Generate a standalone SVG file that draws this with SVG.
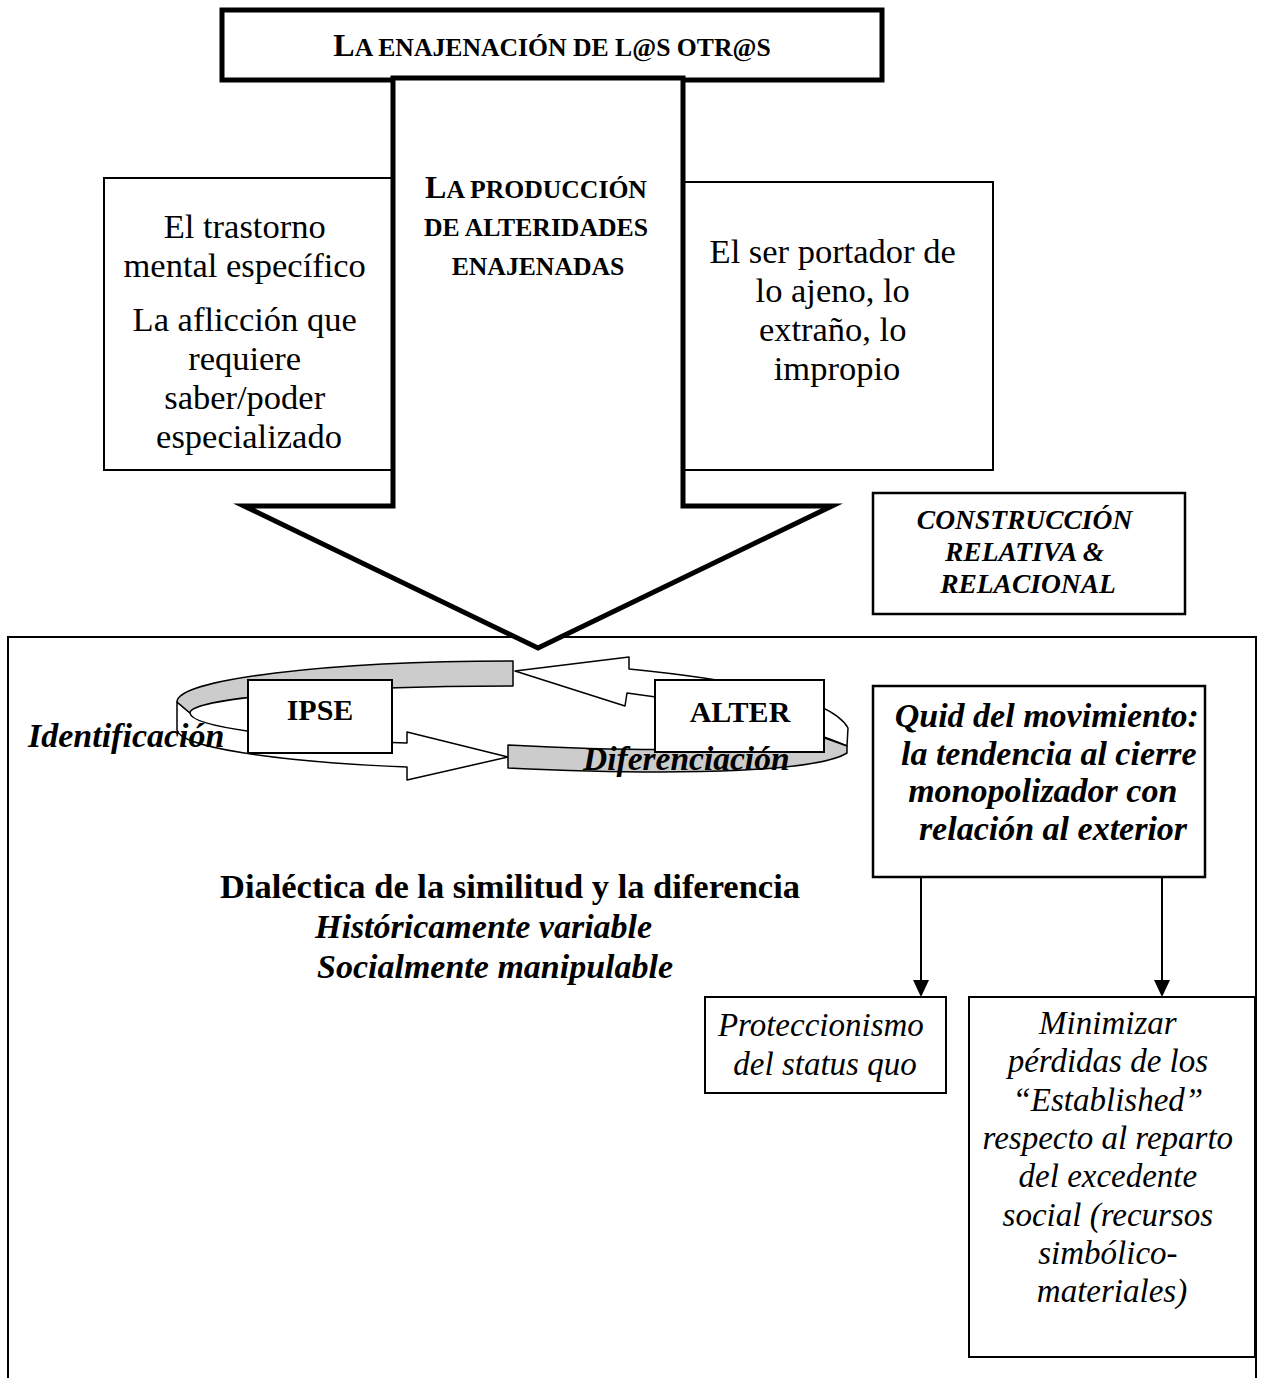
<svg xmlns="http://www.w3.org/2000/svg" width="1266" height="1378" viewBox="0 0 1266 1378">
  <defs>
    <style>
      text { font-family: "Liberation Serif", "Times New Roman", serif; fill: #000; }
      .box { fill: #fff; stroke: #000; stroke-width: 2; }
      .frame { fill: #fff; stroke: #000; stroke-width: 2.5; }
      .heavy { fill: #fff; stroke: #000; stroke-width: 5; stroke-linejoin: miter; stroke-miterlimit: 10; }
      .reg { font-size: 34.5px; text-anchor: middle; }
      .sc { font-weight: bold; text-anchor: middle; }
      .bi { font-weight: bold; font-style: italic; }
      .it { font-style: italic; font-size: 33px; text-anchor: middle; }
      .back { fill: #cccccc; stroke: #000; stroke-width: 1.5; stroke-linejoin: round; }
      .front { fill: #fff; stroke: #000; stroke-width: 1.5; stroke-linejoin: round; }
      .link { stroke: #000; stroke-width: 2; fill: none; marker-end: url(#head); }
    </style>
    <marker id="head" markerUnits="userSpaceOnUse" viewBox="0 0 17 16" markerWidth="17" markerHeight="16" refX="10" refY="8" orient="auto">
      <path d="M0,0 L17,8 L0,16 Z" fill="#000"/>
    </marker>
  </defs>

  <!-- outer frame of the lower section -->
  <g id="frame">
    <rect x="8" y="637" width="1248" height="780" class="box"/>
  </g>

  <!-- heading -->
  <g id="title">
    <rect x="222" y="10" width="660" height="70" class="heavy"/>
    <text x="552" y="56" class="sc"><tspan font-size="32">L</tspan><tspan font-size="25.7">A ENAJENACIÓN DE L@S OTR@S</tspan></text>
  </g>

  <!-- side boxes -->
  <g id="trastorno">
    <rect x="104" y="178" width="300" height="292" class="box"/>
    <text class="reg">
      <tspan x="249" y="238">El trastorno</tspan>
      <tspan x="249" y="277">mental específico</tspan>
      <tspan x="249" y="331">La aflicción que</tspan>
      <tspan x="249" y="370">requiere</tspan>
      <tspan x="249" y="409">saber/poder</tspan>
      <tspan x="249" y="448">especializado</tspan>
    </text>
  </g>

  <g id="portador">
    <rect x="676" y="182" width="317" height="288" class="box"/>
    <text class="reg">
      <tspan x="837" y="263">El ser portador de</tspan>
      <tspan x="837" y="302">lo ajeno, lo</tspan>
      <tspan x="837" y="341">extraño, lo</tspan>
      <tspan x="837" y="380">impropio</tspan>
    </text>
  </g>

  <!-- central block arrow -->
  <g id="produccion">
    <polygon points="393,78 683,78 683,506 832,506 538,648 244,506 393,506" class="heavy"/>
    <text class="sc">
      <tspan x="538" y="198"><tspan font-size="32">L</tspan><tspan font-size="25.7">A PRODUCCIÓN</tspan></tspan>
      <tspan x="538" y="236" font-size="25.7">DE ALTERIDADES</tspan>
      <tspan x="538" y="275" font-size="25.7">ENAJENADAS</tspan>
    </text>
  </g>

  <g id="construccion">
    <rect x="873" y="493" width="312" height="121" class="frame"/>
    <text class="bi" font-size="27.5" text-anchor="middle">
      <tspan x="1028" y="529">CONSTRUCCIÓN</tspan>
      <tspan x="1028" y="561">RELATIVA &amp;</tspan>
      <tspan x="1028" y="593">RELACIONAL</tspan>
    </text>
  </g>

  <!-- connectors: the two looping ribbons and the arrows below the Quid box -->
  <g id="connectors">
    <!-- left loop: back face on top, front face below ending in a right-pointing head -->
    <path class="front" d="M177,702 L177,730 A336 40 0 0 0 407,767 L407,780 L508,757 L407,732 L407,743 A323 32 0 0 1 190,713 Z"/>
    <path class="back" d="M513,661 A336 41 0 0 0 177,702 L190,713 A323 27 0 0 1 513,686 Z"/>
    <!-- right loop: front face on top with a left-pointing head, back face below -->
    <path class="front" d="M515,671 L629,657 L629,669 C720,678 830,695 848,728 L847,746 C800,725 700,702 627,693 L625,706 Z"/>
    <path class="back" d="M847,746 L847,753 C820,770 700,777 508,768 L508,745 C640,752 760,752 822,737 Z"/>

    <line x1="921" y1="877" x2="921" y2="990" class="link"/>
    <line x1="1162" y1="877" x2="1162" y2="990" class="link"/>
  </g>

  <g id="ipse">
    <rect x="248" y="680" width="144" height="73" class="box"/>
    <text x="320" y="720" font-size="30" font-weight="bold" text-anchor="middle">IPSE</text>
  </g>

  <g id="alter">
    <rect x="655" y="680" width="169" height="72" class="box"/>
    <text x="740" y="722" font-size="30" font-weight="bold" text-anchor="middle">ALTER</text>
  </g>

  <g id="labels">
    <text x="28" y="747" class="bi" font-size="34">Identificación</text>
    <text x="583" y="770" class="bi" font-size="33.5">Diferenciación</text>
  </g>

  <g id="dialectica">
    <text x="510" y="898" font-size="34.5" font-weight="bold" text-anchor="middle">Dialéctica de la similitud y la diferencia</text>
    <text x="315" y="938" class="bi" font-size="34">Históricamente variable</text>
    <text x="317" y="978" class="bi" font-size="34">Socialmente manipulable</text>
  </g>

  <g id="quid">
    <rect x="873" y="686" width="332" height="191" class="frame"/>
    <text class="bi" font-size="34" text-anchor="middle">
      <tspan x="1051" y="727">Quid del movimiento:</tspan>
      <tspan x="1053" y="765">la tendencia al cierre</tspan>
      <tspan x="1047" y="802">monopolizador con</tspan>
      <tspan x="1053" y="840">relación al exterior</tspan>
    </text>
  </g>

  <g id="proteccionismo">
    <rect x="705" y="997" width="241" height="96" class="box"/>
    <text class="it">
      <tspan x="825" y="1036">Proteccionismo</tspan>
      <tspan x="825" y="1075">del status quo</tspan>
    </text>
  </g>

  <g id="minimizar">
    <rect x="969" y="997" width="286" height="360" class="box"/>
    <text class="it">
      <tspan x="1112" y="1034">Minimizar</tspan>
      <tspan x="1112" y="1072">pérdidas de los</tspan>
      <tspan x="1112" y="1111">“Established”</tspan>
      <tspan x="1112" y="1149">respecto al reparto</tspan>
      <tspan x="1112" y="1187">del excedente</tspan>
      <tspan x="1112" y="1226">social (recursos</tspan>
      <tspan x="1112" y="1264">simbólico-</tspan>
      <tspan x="1112" y="1302">materiales)</tspan>
    </text>
  </g>
</svg>
